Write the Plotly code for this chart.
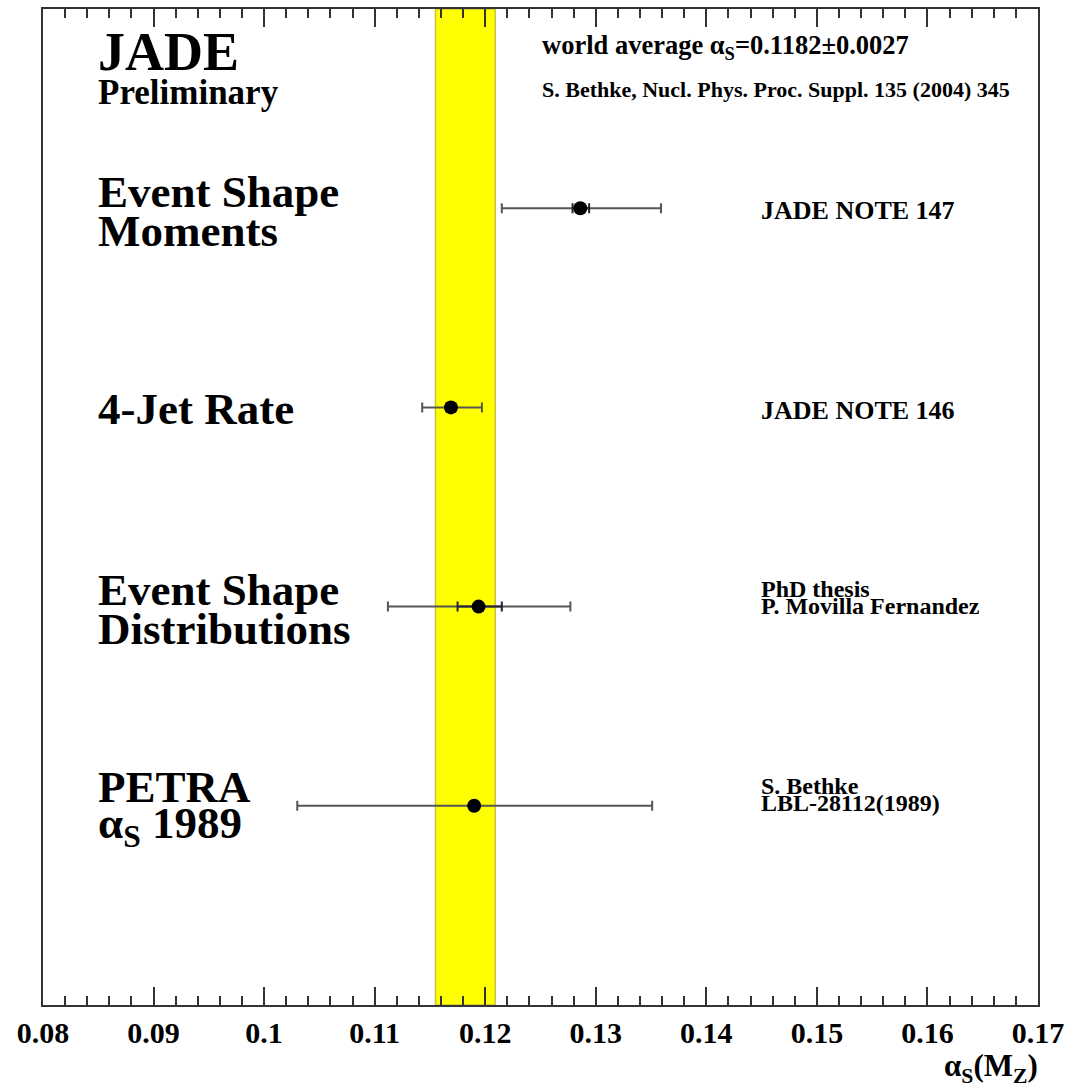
import plotly.graph_objects as go

# ---- data ----
measurements = ["Event Shape Moments", "4-Jet Rate", "Event Shape Distributions", "PETRA alpha_s 1989"]
row_pos = [4, 3, 2, 1]
alpha_s = [0.1286, 0.1169, 0.1194, 0.1190]
tot_err_plus = [0.0073, 0.0028, 0.0083, 0.0161]
tot_err_minus = [0.0071, 0.0026, 0.0082, 0.0160]
stat_err_plus = [0.0008, 0.0004, 0.0021, 0.0]
stat_err_minus = [0.0007, 0.0004, 0.0019, 0.0]
world_avg = 0.1182
world_err = 0.0027
x_ticks = [0.08, 0.09, 0.10, 0.11, 0.12, 0.13, 0.14, 0.15, 0.16, 0.17]
x_tick_labels = ["0.08", "0.09", "0.1", "0.11", "0.12", "0.13", "0.14", "0.15", "0.16", "0.17"]

SERIF = "Liberation Serif, Times New Roman, serif"

fig = go.Figure()

# total uncertainty
fig.add_trace(go.Scatter(
    x=alpha_s, y=row_pos, mode="markers",
    marker=dict(size=1, color="rgba(0,0,0,0)"),
    error_x=dict(type="data", symmetric=False, array=tot_err_plus, arrayminus=tot_err_minus,
                 color="#555555", thickness=2, width=5),
    showlegend=False, hoverinfo="skip"))
# statistical uncertainty + points
fig.add_trace(go.Scatter(
    x=alpha_s, y=row_pos, mode="markers",
    marker=dict(size=14, color="black", symbol="circle"),
    error_x=dict(type="data", symmetric=False, array=stat_err_plus, arrayminus=stat_err_minus,
                 color="#222233", thickness=2, width=5),
    showlegend=False))

# world average band
fig.add_shape(type="rect", xref="x", yref="paper",
              x0=world_avg - world_err, x1=world_avg + world_err, y0=0, y1=1,
              fillcolor="#ffff00", line=dict(color="#c8c23a", width=1.5), layer="below")

T, B = 9, 1005
L, R = 43, 1038
def py(p):
    return (B - p) / (B - T)
def px(p):
    return (p - L) / (R - L)

def ann(text, x, y, size, xanchor="left", weight="bold"):
    fig.add_annotation(text=text, x=px(x), y=py(y), xref="paper", yref="paper",
                       xanchor=xanchor, yanchor="middle", showarrow=False,
                       font=dict(family=SERIF, size=size, color="black", weight=weight))

ann("JADE", 96, 52, 54)
ann("Preliminary", 96, 92, 35)
ann("Event Shape", 96, 192, 45)
ann("Moments", 96, 231, 45)
ann("4-Jet Rate", 96, 409, 45)
ann("Event Shape", 96, 590, 45)
ann("Distributions", 96, 629, 45)
ann("PETRA", 96, 787, 45)
ann("α<sub>S</sub> 1989", 96, 826, 45)

ann("world average α<sub>S</sub>=0.1182±0.0027", 540, 47, 26.5)
ann("S. Bethke, Nucl. Phys. Proc. Suppl. 135 (2004) 345", 540, 89, 22)
ann("JADE NOTE 147", 759, 211, 26)
ann("JADE NOTE 146", 759, 410, 26)
ann("PhD thesis", 759, 589, 24)
ann("P. Movilla Fernandez", 759, 606, 24)
ann("S. Bethke", 759, 786, 24)
ann("LBL-28112(1989)", 759, 803, 24)

# x-axis title
ann("α<sub>S</sub>(M<sub>Z</sub>)", 1040, 1068, 31, xanchor="right")

fig.update_xaxes(range=[0.08, 0.17], tickvals=x_ticks, ticktext=x_tick_labels,
                 ticks="inside", ticklen=18, tickwidth=2, tickcolor="#333333",
                 minor=dict(ticks="inside", ticklen=9, tickwidth=2, tickcolor="#333333", dtick=0.002, showgrid=False),
                 showline=True, linecolor="#333333", linewidth=2, mirror="ticks",
                 showgrid=False, zeroline=False, automargin=False, ticklabeloverflow="allow",
                 tickfont=dict(family=SERIF, size=30, color="black", weight="bold"))
fig.update_yaxes(range=[0, 5], showticklabels=False, ticks="", showgrid=False, zeroline=False,
                 showline=True, linecolor="#333333", linewidth=2, mirror=True, automargin=False)

fig.update_layout(width=1068, height=1087, margin=dict(l=43, r=30, t=9, b=82),
                  paper_bgcolor="white", plot_bgcolor="white")

fig.write_html("out.html")
